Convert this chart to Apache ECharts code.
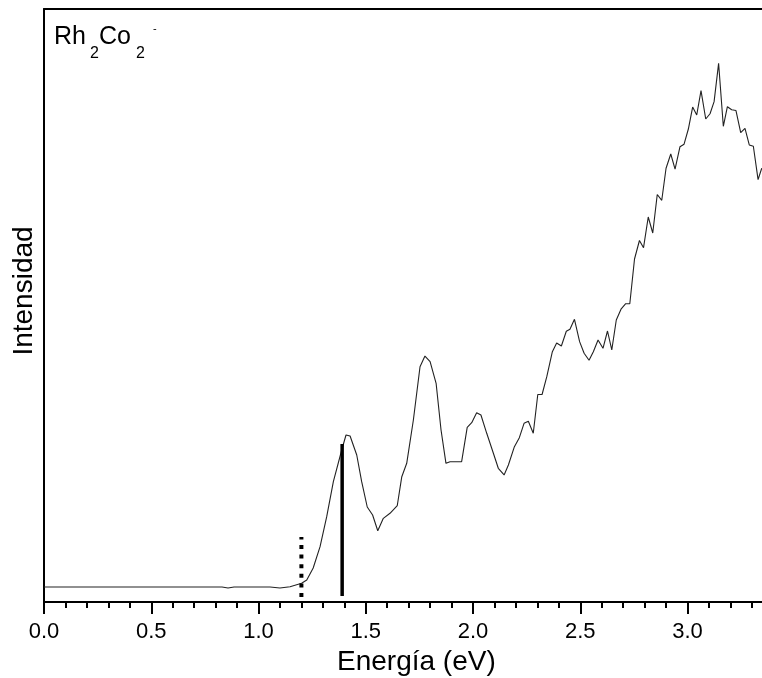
<!DOCTYPE html>
<html>
<head>
<meta charset="utf-8">
<title>Rh2Co2- espectro</title>
<script src="https://cdn.jsdelivr.net/npm/echarts@6/dist/echarts.min.js"></script>
<style>
  html, body { margin: 0; padding: 0; background: #fff; }
  #chart { width: 762px; height: 678px; }
</style>
</head>
<body>
<div id="chart"></div>
<script>
// Photoelectron spectrum of Rh2Co2- (arbitrary intensity units)
const energy = [0.000,0.261,0.494,0.727,0.830,0.858,0.886,1.054,1.100,1.147,1.201,1.225,1.255,1.287,1.318,1.349,1.388,1.408,1.427,1.458,1.481,1.507,1.532,1.556,1.582,1.613,1.647,1.668,1.691,1.722,1.753,1.776,1.800,1.828,1.851,1.874,1.893,1.947,1.973,1.994,2.017,2.037,2.064,2.095,2.118,2.145,2.165,2.193,2.216,2.238,2.258,2.281,2.302,2.322,2.344,2.370,2.390,2.412,2.435,2.452,2.473,2.497,2.518,2.541,2.561,2.583,2.606,2.627,2.647,2.668,2.691,2.712,2.731,2.753,2.776,2.795,2.817,2.838,2.859,2.880,2.900,2.922,2.942,2.965,2.984,3.004,3.024,3.043,3.063,3.085,3.105,3.124,3.145,3.167,3.186,3.206,3.226,3.248,3.268,3.288,3.307,3.329,3.346];
const intensity = [2.53,2.53,2.53,2.53,2.53,2.36,2.53,2.53,2.36,2.58,3.15,3.71,5.73,9.33,14.38,20.29,25.63,28.16,27.99,24.79,20.29,16.02,14.67,12.02,14.11,14.96,16.27,21.13,23.39,30.69,39.68,41.48,40.52,36.88,29.01,23.39,23.66,23.66,29.46,30.24,31.92,31.53,28.45,25.08,22.55,21.42,23.10,26.19,27.71,30.13,30.47,28.45,34.99,34.99,37.99,42.21,43.68,43.17,45.65,45.99,47.67,43.90,41.94,40.76,42.21,44.18,42.78,45.70,42.50,47.55,49.44,50.30,50.30,57.84,60.96,59.75,64.92,62.23,68.72,67.74,73.14,75.55,72.99,76.78,77.20,79.76,83.47,82.12,86.22,81.45,82.34,84.37,90.84,80.22,83.52,83.02,82.88,79.17,79.88,77.07,76.85,71.23,73.14];

// Vertical markers: onset (dotted) and vertical detachment energy (solid)
const onsetEnergy = 1.20;
const onsetRange = [0.84, 10.96];
const vdeEnergy = 1.39;
const vdeRange = [1.01, 26.64];

const xTickLabels = ['0.0', '0.5', '1.0', '1.5', '2.0', '2.5', '3.0'];

const FONT = "'Liberation Sans', Arial, sans-serif";
const spectrum = energy.map((e, i) => [e, intensity[i]]);

const chart = echarts.init(document.getElementById('chart'), null, { renderer: 'canvas' });

chart.setOption({
  backgroundColor: '#fff',
  animation: false,
  grid: { left: 44, top: 9, width: 750.75, bottom: 76, containLabel: false, outerBoundsMode: 'none' },
  xAxis: [
    {
      type: 'value',
      min: 0,
      max: 3.5,
      interval: 0.5,
      position: 'bottom',
      name: 'Energía (eV)',
      nameLocation: 'middle',
      nameGap: 43,
      nameTextStyle: { fontFamily: FONT, fontSize: 28, color: '#000', padding: [0, 6, 0, 0] },
      axisLine: { show: true, onZero: false, lineStyle: { color: '#000', width: 2 } },
      axisTick: { show: true, inside: false, length: 12, lineStyle: { color: '#000', width: 2 } },
      minorTick: { show: true, splitNumber: 5, length: 6, lineStyle: { color: '#000', width: 2 } },
      axisLabel: {
        show: true, margin: 19, fontFamily: FONT, fontSize: 22, color: '#000',
        formatter: v => {
          const s = v.toFixed(1);
          return xTickLabels.indexOf(s) >= 0 ? s : '';
        }
      },
      splitLine: { show: false },
      minorSplitLine: { show: false }
    },
    {
      type: 'value',
      min: 0,
      max: 3.5,
      position: 'top',
      axisLine: { show: true, onZero: false, lineStyle: { color: '#000', width: 2 } },
      axisTick: { show: false },
      axisLabel: { show: false },
      splitLine: { show: false }
    }
  ],
  yAxis: {
    type: 'value',
    min: 0,
    max: 100,
    axisLine: { show: true, onZero: false, lineStyle: { color: '#000', width: 2 } },
    axisTick: { show: false },
    axisLabel: { show: false },
    splitLine: { show: false }
  },
  graphic: [
    {
      type: 'text', x: 24, y: 291, rotation: Math.PI / 2,
      style: { text: 'Intensidad', fontFamily: FONT, fontSize: 28, fill: '#000', align: 'center', verticalAlign: 'middle' }
    },
    { type: 'text', x: 54, y: 37.5, style: { text: 'Rh', fontFamily: FONT, fontSize: 25, fill: '#000', verticalAlign: 'middle' } },
    { type: 'text', x: 90, y: 54, style: { text: '2', fontFamily: FONT, fontSize: 16, fill: '#000', verticalAlign: 'middle' } },
    { type: 'text', x: 99, y: 37.5, style: { text: 'Co', fontFamily: FONT, fontSize: 25, fill: '#000', verticalAlign: 'middle' } },
    { type: 'text', x: 136, y: 54, style: { text: '2', fontFamily: FONT, fontSize: 16, fill: '#000', verticalAlign: 'middle' } },
    { type: 'text', x: 153, y: 29, style: { text: '-', fontFamily: FONT, fontSize: 11, fill: '#000', verticalAlign: 'middle' } }
  ],
  series: [
    {
      name: 'espectro',
      type: 'line',
      data: spectrum,
      showSymbol: false,
      symbol: 'none',
      smooth: false,
      clip: true,
      lineStyle: { color: '#222', width: 1.1 }
    },
    {
      name: 'umbral',
      type: 'line',
      data: [[onsetEnergy, onsetRange[0]], [onsetEnergy, onsetRange[1]]],
      symbol: 'none',
      lineStyle: { color: '#000', width: 4, type: [4, 5.6], cap: 'butt' }
    },
    {
      name: 'VDE',
      type: 'line',
      data: [[vdeEnergy, vdeRange[0]], [vdeEnergy, vdeRange[1]]],
      symbol: 'none',
      lineStyle: { color: '#000', width: 3.5, cap: 'butt' }
    }
  ]
});
</script>
</body>
</html>
